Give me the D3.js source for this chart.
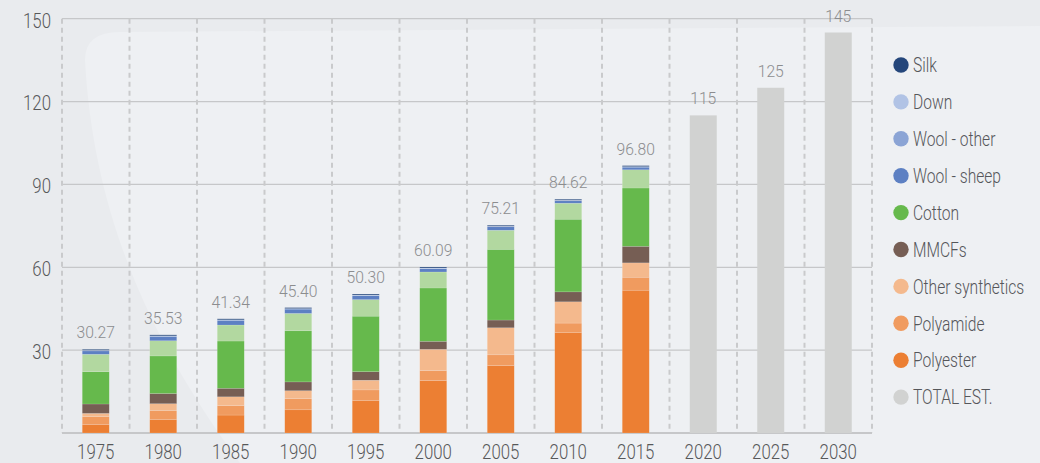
<!DOCTYPE html>
<html>
<head>
<meta charset="utf-8">
<script src="https://cdn.jsdelivr.net/npm/d3@7/dist/d3.min.js"></script>
<style>
  html, body { margin: 0; padding: 0; background: #eceef1; }
  svg { display: block; }
  text { font-family: Roboto, "Open Sans", sans-serif; font-weight: 300; }
</style>
</head>
<body>
<svg id="chart" width="1040" height="463"></svg>
<script>
// ---------- DATA ----------
const years = ["1975","1980","1985","1990","1995","2000","2005","2010","2015"];
const estYears = ["2020","2025","2030"];
const allYears = years.concat(estYears);

const polyester      = [3.0, 4.9, 6.5, 8.4, 11.8, 19.0, 24.4, 36.3, 51.7];
const polyamide      = [2.9, 3.15, 3.4, 4.0, 3.8, 3.6, 3.9, 3.5, 4.7];
const otherSynthetics= [1.2, 2.55, 3.2, 2.9, 3.5, 7.7, 9.8, 7.7, 5.2];
const mmcfs          = [3.4, 3.7, 3.1, 3.2, 3.1, 2.9, 2.8, 3.6, 6.0];
const cotton         = [11.7, 13.6, 17.1, 18.5, 20.1, 19.3, 25.6, 26.3, 21.1];
const otherPlant     = [6.3, 5.5, 5.8, 6.3, 6.0, 5.8, 6.9, 5.8, 6.6];
const woolSheep      = [1.22, 1.58, 1.69, 1.55, 1.45, 1.24, 1.26, 0.87, 0.95];
const woolOther      = [0.1, 0.1, 0.1, 0.1, 0.1, 0.1, 0.1, 0.1, 0.1];
const down           = [0.1, 0.1, 0.1, 0.1, 0.1, 0.1, 0.1, 0.1, 0.1];
const silk           = [0.35, 0.35, 0.35, 0.35, 0.35, 0.35, 0.35, 0.35, 0.35];

const totals    = [30.27, 35.53, 41.34, 45.40, 50.30, 60.09, 75.21, 84.62, 96.80];
const estTotals = [115, 125, 145];

const yTicks = [30, 60, 90, 120, 150];

const seriesNames  = ["Polyester","Polyamide","Other synthetics","MMCFs","Cotton","Other plant","Wool - sheep","Wool - other","Down","Silk"];
const seriesValues = [polyester, polyamide, otherSynthetics, mmcfs, cotton, otherPlant, woolSheep, woolOther, down, silk];
const seriesColors = ["#ec7f33","#f09b5f","#f4b98d","#765e54","#66b94c","#b2d8a0","#5d80c3","#8ba4d5","#b1c3e5","#24467b"];

const legendNames  = ["Silk","Down","Wool - other","Wool - sheep","Cotton","MMCFs","Other synthetics","Polyamide","Polyester","TOTAL EST."];
const legendColors = ["#24467b","#b1c3e5","#8ba4d5","#5d80c3","#66b94c","#765e54","#f4b98d","#f09b5f","#ec7f33","#d1d2d1"];
const estColor = "#d1d2d1";

(function () {
// ---------- LAYOUT ----------
const svg = d3.select("#chart");
const W = 1040, H = 463;
const mLeft = 62, mRight = 872, mTop = 18.7, mBottom = 433;

// background decoration
svg.append("rect").attr("width", W).attr("height", H).attr("fill", "#e9ebee");
svg.append("path")
  .attr("d", "M85,60 Q85,32 120,32 L1040,26 L1040,463 L240,463 C180,380 95,250 85,60 Z")
  .attr("fill", "#eef0f3");

const x = d3.scaleBand().domain(allYears).range([mLeft, mRight]).paddingInner(0.6).paddingOuter(0.3);
const xb = d3.scaleBand().domain(allYears).range([mLeft, mRight]);
const y = d3.scaleLinear().domain([0, 150]).range([mBottom, mTop]);

function squeeze(sel, f) {
  sel.each(function () {
    const len = this.getComputedTextLength();
    d3.select(this).attr("textLength", len * f).attr("lengthAdjust", "spacingAndGlyphs");
  });
}

// horizontal grid
const gridG = svg.append("g");
gridG.selectAll("line.h").data(yTicks).join("line")
  .attr("x1", mLeft).attr("x2", mRight)
  .attr("y1", d => y(d)).attr("y2", d => y(d))
  .attr("stroke", "#c6c7c9").attr("stroke-width", 1.2);

// vertical dashed grid
const vlines = allYears.map(d => xb(d)).concat([mRight]);
gridG.selectAll("line.v").data(vlines).join("line")
  .attr("x1", d => d).attr("x2", d => d)
  .attr("y1", mTop).attr("y2", mBottom)
  .attr("stroke", "#c9cacc").attr("stroke-width", 2)
  .attr("stroke-dasharray", "5,4");

// baseline
svg.append("line").attr("x1", mLeft).attr("x2", mRight)
  .attr("y1", y(0)).attr("y2", y(0))
  .attr("stroke", "#c6c7c9").attr("stroke-width", 2);

// stacked bars
const rows = years.map((yr, i) => {
  const o = { year: yr };
  seriesNames.forEach((n, k) => o[n] = seriesValues[k][i]);
  return o;
});
const stacked = d3.stack().keys(seriesNames)(rows);
const barsG = svg.append("g");
stacked.forEach((layer, k) => {
  barsG.append("g").attr("fill", seriesColors[k])
    .selectAll("rect").data(layer).join("rect")
    .attr("x", d => x(d.data.year))
    .attr("width", x.bandwidth())
    .attr("y", d => y(d[1]))
    .attr("height", d => Math.max(0, y(d[0]) - y(d[1])))
    .attr("stroke", "rgba(255,255,255,0.25)").attr("stroke-width", 0.5);
});

// estimate bars
barsG.append("g").selectAll("rect").data(estYears).join("rect")
  .attr("x", d => x(d)).attr("width", x.bandwidth())
  .attr("y", (d, i) => y(estTotals[i]))
  .attr("height", (d, i) => y(0) - y(estTotals[i]))
  .attr("fill", estColor);

// value labels
const lab = svg.append("g").attr("fill", "#8c8d8f").attr("font-size", 16.5).attr("text-anchor", "middle");
lab.selectAll("text.a").data(years).join("text")
  .attr("x", d => x(d) + x.bandwidth() / 2)
  .attr("y", (d, i) => y(totals[i]) - 11)
  .text((d, i) => d3.format(".2f")(totals[i]))
  .call(squeeze, 0.95);
lab.selectAll("text.b").data(estYears).join("text")
  .attr("x", d => x(d) + x.bandwidth() / 2)
  .attr("y", (d, i) => y(estTotals[i]) - 11)
  .text((d, i) => d3.format("d")(estTotals[i]))
  .call(squeeze, 0.95);

// y axis
const yAxis = d3.axisLeft(y).tickValues(yTicks).tickSize(0).tickPadding(0);
const yg = svg.append("g").attr("transform", `translate(51,0)`).call(yAxis);
yg.select(".domain").remove();
yg.selectAll("text").attr("font-size", 21).attr("fill", "#57585a")
  .attr("font-family", "Roboto, sans-serif").attr("font-weight", 300)
  .attr("dy", "0.4em").call(squeeze, 0.8);

// x axis
const xAxis = d3.axisBottom(xb).tickSize(0).tickPadding(0);
const xg = svg.append("g").attr("transform", `translate(0,${mBottom})`).call(xAxis);
xg.select(".domain").remove();
xg.selectAll("text").attr("font-size", 20).attr("fill", "#57585a")
  .attr("font-family", "Roboto, sans-serif").attr("font-weight", 300)
  .attr("dy", null).attr("y", 25.5).call(squeeze, 0.84);

// legend
const leg = svg.append("g").attr("transform", "translate(901,65)");
const li = leg.selectAll("g").data(legendNames).join("g")
  .attr("transform", (d, i) => `translate(0,${i * 36.9})`);
li.append("circle").attr("r", 7.7).attr("fill", (d, i) => legendColors[i]);
li.append("text").attr("transform", "translate(12,0) scale(0.78,1)").attr("dy", "0.36em")
  .attr("font-size", 20).attr("fill", "#55565a")
  .text(d => d);
})();
</script>
</body>
</html>
